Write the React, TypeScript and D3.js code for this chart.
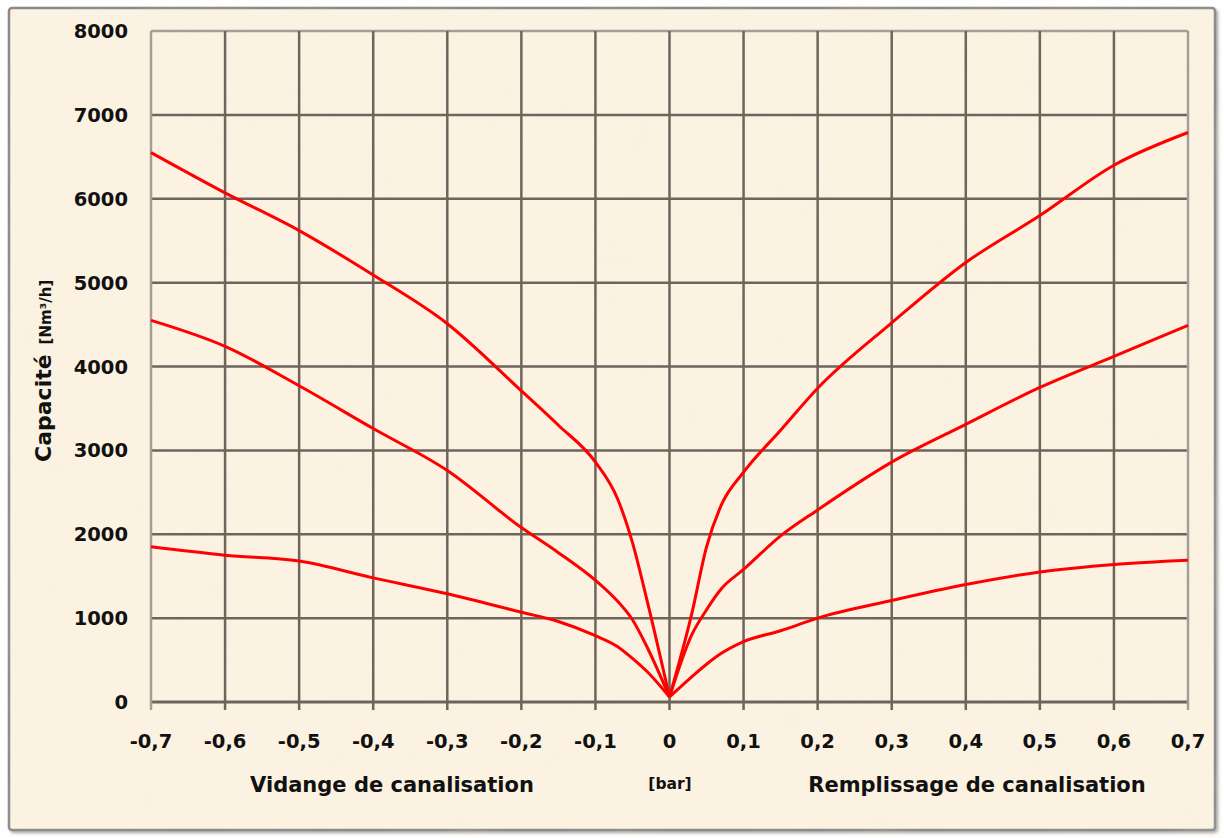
import * as d3 from 'd3'

// pressure [bar], left side (vidange) and right side (remplissage)
const xLeft = [-0.7, -0.6, -0.5, -0.4, -0.3, -0.2, -0.15, -0.1, -0.07, -0.05, -0.03, 0]
const xRight = [0, 0.03, 0.05, 0.07, 0.1, 0.15, 0.2, 0.3, 0.4, 0.5, 0.6, 0.7]

// capacity [Nm3/h]
const highLeft = [6550, 6070, 5620, 5090, 4510, 3710, 3300, 2860, 2420, 1900, 1200, 60]
const highRight = [60, 1050, 1850, 2350, 2740, 3240, 3740, 4520, 5240, 5800, 6400, 6790]
const midLeft = [4550, 4240, 3770, 3260, 2760, 2080, 1780, 1450, 1200, 980, 650, 60]
const midRight = [60, 800, 1100, 1350, 1580, 1980, 2290, 2860, 3310, 3750, 4120, 4490]
const lowLeft = [1850, 1750, 1680, 1480, 1290, 1070, 960, 790, 660, 520, 360, 60]
const lowRight = [60, 300, 450, 580, 720, 850, 1000, 1210, 1400, 1550, 1640, 1690]

const xTicks = [-0.7, -0.6, -0.5, -0.4, -0.3, -0.2, -0.1, 0, 0.1, 0.2, 0.3, 0.4, 0.5, 0.6, 0.7]
const xTickLabels = ['-0,7', '-0,6', '-0,5', '-0,4', '-0,3', '-0,2', '-0,1', '0', '0,1', '0,2', '0,3', '0,4', '0,5', '0,6', '0,7']
const yTicks = [0, 1000, 2000, 3000, 4000, 5000, 6000, 7000, 8000]

const W = 1224
const H = 838
const plot = { left: 151, right: 1188, top: 31, bottom: 702 }
const font = '"DejaVu Sans", "Liberation Sans", Arial, sans-serif'

export default function App() {
  const x = d3.scaleLinear().domain([-0.7, 0.7]).range([plot.left, plot.right])
  const y = d3.scaleLinear().domain([0, 8000]).range([plot.bottom, plot.top])

  const line = d3.line<[number, number]>()
    .x(d => x(d[0]))
    .y(d => y(d[1]))
    .curve(d3.curveMonotoneX)

  const halves: [number[], number[]][] = [
    [xLeft, highLeft], [xRight, highRight],
    [xLeft, midLeft], [xRight, midRight],
    [xLeft, lowLeft], [xRight, lowRight],
  ]

  const gridInner = '#6d655d'
  const gridEdge = '#a49e96'

  return (
    <svg width={W} height={H} style={{ position: 'absolute', left: 0, top: 0 }}>
      <defs>
        <filter id="shadow" x="-5%" y="-5%" width="110%" height="110%">
          <feDropShadow dx="2" dy="2" stdDeviation="1.5" floodColor="#555" floodOpacity="0.5" />
        </filter>
        <filter id="paper">
          <feTurbulence type="fractalNoise" baseFrequency="0.012" numOctaves="3" seed="4" />
          <feColorMatrix type="matrix" values="0 0 0 0 0.93  0 0 0 0 0.86  0 0 0 0 0.74  0 0 0 1.1 -0.45" />
        </filter>
      </defs>
      <rect x={0} y={0} width={W} height={H} fill="#ffffff" />
      <rect x={9} y={8} width={1206} height={822} rx={3} fill="#fcf2e1" stroke="#8a8a8a" strokeWidth={2.5} filter="url(#shadow)" />
      <rect x={11} y={10} width={1202} height={818} fill="#000" filter="url(#paper)" opacity={0.22} />

      {/* grid */}
      {yTicks.map(t => (
        <line key={'h' + t} x1={plot.left} x2={plot.right} y1={y(t)} y2={y(t)}
          stroke={t === 8000 ? gridEdge : gridInner} strokeWidth={t === 0 ? 3 : 2.5} />
      ))}
      {xTicks.map((t, i) => (
        <line key={'v' + t} x1={x(t)} x2={x(t)} y1={plot.top} y2={plot.bottom + 8}
          stroke={i === 0 || i === xTicks.length - 1 ? gridEdge : gridInner} strokeWidth={2.5} />
      ))}

      {/* curves */}
      {halves.map(([xs, ys], i) => (
        <path key={'c' + i} d={line(xs.map((v, j) => [v, ys[j]] as [number, number])) || ''}
          fill="none" stroke="#ff0000" strokeWidth={3} strokeLinejoin="round" />
      ))}

      {/* y tick labels */}
      {yTicks.map(t => (
        <text key={'yl' + t} x={128} y={y(t)} dy="0.36em" textAnchor="end"
          fontFamily={font} fontWeight="bold" fontSize={19.5} fill="#111">{t}</text>
      ))}
      {/* x tick labels */}
      {xTicks.map((t, i) => (
        <text key={'xl' + t} x={x(t)} y={741} dy="0.36em" textAnchor="middle"
          fontFamily={font} fontWeight="bold" fontSize={19.5} fill="#111">{xTickLabels[i]}</text>
      ))}

      {/* axis titles */}
      <text transform="translate(51,462) rotate(-90)" fontFamily={font} fontWeight="bold" fill="#111">
        <tspan fontSize={22}>Capacité</tspan>
        <tspan fontSize={15} dx={10}>[Nm³/h]</tspan>
      </text>
      <text x={392} y={792} textAnchor="middle" fontFamily={font} fontWeight="bold" fontSize={21} fill="#111">
        Vidange de canalisation
      </text>
      <text x={670} y={789} textAnchor="middle" fontFamily={font} fontWeight="bold" fontSize={15.5} fill="#111">
        [bar]
      </text>
      <text x={977} y={792} textAnchor="middle" fontFamily={font} fontWeight="bold" fontSize={21} fill="#111">
        Remplissage de canalisation
      </text>
    </svg>
  )
}
